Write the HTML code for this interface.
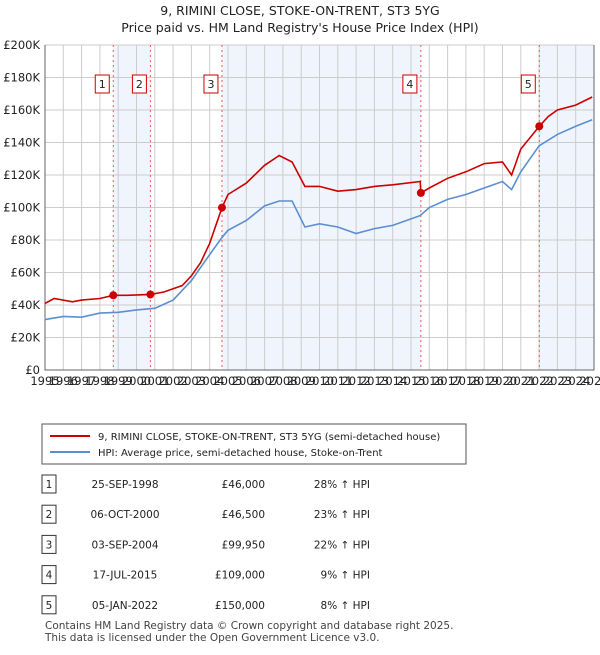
<!DOCTYPE html>
<html><head><meta charset="utf-8"><style>
body{margin:0;background:#fff;font-family:"Liberation Sans",sans-serif;}
svg text{font-family:"DejaVu Sans","Liberation Sans",sans-serif;}
</style></head><body>
<svg id="c" width="600" height="650" xmlns="http://www.w3.org/2000/svg">
<text x="300" y="15" text-anchor="middle" font-size="12.5" fill="#222">9, RIMINI CLOSE, STOKE-ON-TRENT, ST3 5YG</text>
<text x="300" y="32" text-anchor="middle" font-size="12.5" fill="#222">Price paid vs. HM Land Registry's House Price Index (HPI)</text>
<g id="plot"></g>
<rect x="42" y="424" width="424" height="40" fill="#fff" stroke="#555"/>
<line x1="50" y1="436" x2="90" y2="436" stroke="#cc0000" stroke-width="2"/>
<text x="98" y="440" font-size="10" fill="#222">9, RIMINI CLOSE, STOKE-ON-TRENT, ST3 5YG (semi-detached house)</text>
<line x1="50" y1="452" x2="90" y2="452" stroke="#5b8fd0" stroke-width="2"/>
<text x="98" y="456" font-size="10" fill="#222">HPI: Average price, semi-detached house, Stoke-on-Trent</text>
<g id="tbl"></g>
<text x="45" y="629" font-size="10.5" fill="#444">Contains HM Land Registry data © Crown copyright and database right 2025.</text>
<text x="45" y="641" font-size="10.5" fill="#444">This data is licensed under the Open Government Licence v3.0.</text>
</svg>
<script>
const hpiYears=[1995,1996,1997,1998,1999,2000,2001,2002,2003,2004,2004.7,2005,2006,2007,2007.8,2008.5,2009.2,2010,2011,2012,2013,2014,2015,2015.5,2016,2017,2018,2019,2020,2020.5,2021,2022,2023,2024,2024.9];
const hpiValues=[31,33,32.5,35,35.5,37,38,43,55,71,82,86,92,101,104,104,88,90,88,84,87,89,93,95,100,105,108,112,116,111,122,138,145,150,154];
const priceYears=[1995,1995.5,1996.5,1997,1998,1998.73,1999.5,2000.76,2001.5,2002,2002.5,2003,2003.5,2004,2004.67,2005,2006,2007,2007.8,2008.5,2009.2,2010,2011,2012,2013,2014,2015.5,2015.54,2016,2017,2018,2019,2020,2020.5,2021,2022.01,2022.5,2023,2024,2024.9];
const priceValues=[41,44,42,43,44,46,46,46.5,48,50,52,58,66,78,99.95,108,115,126,132,128,113,113,110,111,113,114,116,109,112,118,122,127,128,120,136,150,156,160,163,168];
const saleYears=[1998.73,2000.76,2004.67,2015.54,2022.01];
const saleValues=[46,46.5,99.95,109,150];
const saleLabels=["1","2","3","4","5"];
const saleDates=["25-SEP-1998","06-OCT-2000","03-SEP-2004","17-JUL-2015","05-JAN-2022"];
const salePrices=["£46,000","£46,500","£99,950","£109,000","£150,000"];
const saleHpi=["28% ↑ HPI","23% ↑ HPI","22% ↑ HPI","9% ↑ HPI","8% ↑ HPI"];
const yTicks=[0,20,40,60,80,100,120,140,160,180,200];
const yTickLabels=["£0","£20K","£40K","£60K","£80K","£100K","£120K","£140K","£160K","£180K","£200K"];
const xTicks=[1995,1996,1997,1998,1999,2000,2001,2002,2003,2004,2005,2006,2007,2008,2009,2010,2011,2012,2013,2014,2015,2016,2017,2018,2019,2020,2021,2022,2023,2024,2025];

const NS="http://www.w3.org/2000/svg";
const X0=45,X1=594,Y0=370,Y1=45;
const xs=y=>X0+(y-1995)/30*(X1-X0);
const ys=v=>Y0-v/200*(Y0-Y1);
const plot=document.getElementById('plot');
function mk(t,a,p){const e=document.createElementNS(NS,t);for(const k in a)e.setAttribute(k,a[k]);(p||plot).appendChild(e);return e;}
const shades=[[0,1],[2,3],[4,null]];
shades.forEach((s,i)=>{
const r=mk('rect',{x:xs(saleYears[s[0]]),y:Y1,width:(s[1]===null?X1:xs(saleYears[s[1]]))-xs(saleYears[s[0]]),height:Y0-Y1,fill:'#f0f4fd'});


});
yTicks.forEach((v,i)=>{
const l=mk('line',{x1:X0,x2:X1,y1:ys(v),y2:ys(v),stroke:'#ccc'});


const t=mk('text',{x:X0-5,y:ys(v)+4,'text-anchor':'end','font-size':'11.5',fill:'#222'});
t.textContent=yTickLabels[i];


});
xTicks.forEach(y=>{
const l=mk('line',{x1:xs(y),x2:xs(y),y1:Y1,y2:Y0,stroke:'#ccc'});


const t=mk('text',{x:xs(y),y:Y0+15,'text-anchor':'middle','font-size':'11.5',fill:'#222'});
t.textContent=y;


});
const ax=mk('path',{d:`M${X0},${Y1}V${Y0}H${X1}V${Y1}`,fill:'none',stroke:'#666'});


saleYears.forEach((y,i)=>{
const l=mk('line',{x1:xs(y),x2:xs(y),y1:Y1,y2:Y0,stroke:'#e55','stroke-dasharray':'2,3'});


});
function line(xa,va,col,name){
const p=mk('path',{d:xa.map((y,i)=>(i?'L':'M')+xs(y).toFixed(1)+','+ys(va[i]).toFixed(1)).join(''),fill:'none',stroke:col,'stroke-width':1.6});


}
line(hpiYears,hpiValues,'#5b8fd0','hpi-line');
line(priceYears,priceValues,'#cc0000','price-line');
saleYears.forEach((y,i)=>{
const c=mk('circle',{cx:xs(y),cy:ys(saleValues[i]),r:4,fill:'#cc0000'});


const b=mk('rect',{x:xs(y)-18,y:75,width:14,height:18,fill:'#fff',stroke:'#cc0000'});


const t=mk('text',{x:xs(y)-11,y:88,'text-anchor':'middle','font-size':'11',fill:'#222'});
t.textContent=saleLabels[i];


});
const tbl=document.getElementById('tbl');
saleLabels.forEach((s,i)=>{
const yy=485+i*30.2;
const b=mk('rect',{x:42,y:yy-10,width:14,height:18,fill:'#fff',stroke:'#333'},tbl);


const cells=[[49,s,'middle'],[125,saleDates[i],'middle'],[265,salePrices[i],'end'],[370,saleHpi[i],'end']];
cells.forEach((c,j)=>{
const t=mk('text',{x:c[0],y:yy+3,'text-anchor':c[2],'font-size':'10.5',fill:'#222'},tbl);
t.textContent=c[1];


});
});
</script>
</body></html>
